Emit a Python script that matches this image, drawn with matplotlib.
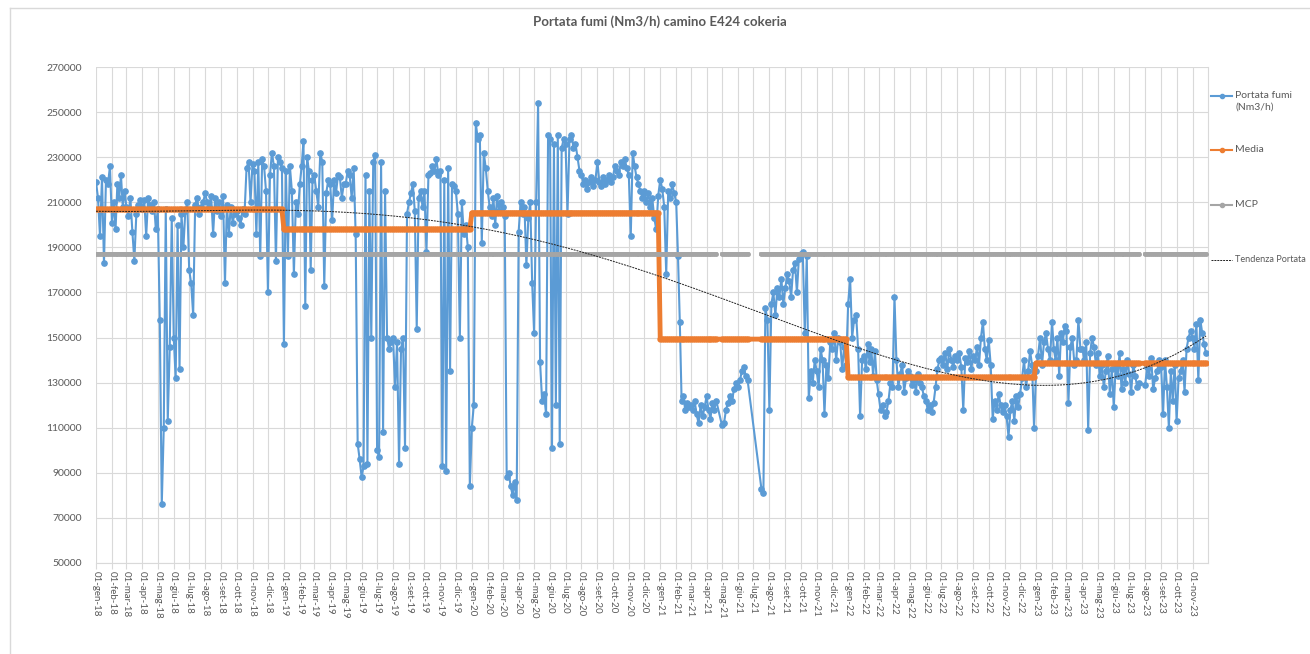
import numpy as np
import pandas as pd
import matplotlib
matplotlib.use('Agg')
import matplotlib.pyplot as plt
import matplotlib.dates as mdates
from matplotlib.lines import Line2D

plt.rcParams['font.family'] = ['Lato', 'DejaVu Sans']

# portata fumi, migliaia di Nm3/h, 8 letture per mese (None = dato mancante)
portata_2018 = [
    [219, 212, 195, 221, 183, 220, 218, 226],
    [201, 210, 198, 218, 212, 222, 208, 215],
    [208, 204, 212, 197, 184, 205, 209, 211],
    [207, 211, 195, 212, 209, 206, 210, 198],
    [207, 158, 76, 110, 207, 113, 146, 203],
    [150, 132, 200, 136, 205, 190, 206, 210],
    [180, 174, 160, 209, 212, 205, 208, 210],
    [214, 210, 208, 213, 196, 212, 206, 210],
    [204, 213, 174, 209, 196, 208, 201, 205],
    [206, 203, 200, 207, 205, 225, 228, 210],
    [227, 224, 196, 228, 186, 229, 226, 215],
    [170, 222, 232, 226, 184, 230, 228, 225],
]
portata_2019 = [
    [147, 224, 186, 226, 215, 178, 210, 205],
    [218, 226, 237, 164, 230, 224, 180, 220],
    [222, 215, 208, 232, 228, 173, 214, 220],
    [218, 202, 220, 214, 222, 221, 212, 218],
    [218, 224, 222, 212, 225, 196, 103, 96],
    [88, 93, 222, 94, 215, 150, 228, 231],
    [100, 97, 228, 108, 215, 150, 145, 148],
    [150, 128, 148, 94, 145, 150, 101, 205],
    [210, 214, 218, 206, 154, 212, 215, 208],
    [215, 188, 222, 223, 226, 224, 229, 222],
    [224, 93, 220, 91, 225, 135, 218, 217],
    [215, 205, 150, 210, 196, 200, 190, 84],
]
portata_2020 = [
    [110, 120, 245, 238, 240, 192, 232, 225],
    [215, 208, 204, 212, 200, 213, 206, 210],
    [208, 204, 88, 90, 84, 80, 86, 78],
    [197, 210, 205, 208, 182, 203, 210, 174],
    [152, 210, 254, 139, 122, 125, 116, 240],
    [238, 101, 236, 120, 240, 103, 234, 238],
    [236, 205, 238, 240, 234, 236, 230, 224],
    [222, 218, 220, 216, 219, 221, 217, 220],
    [228, 219, 217, 221, 218, 220, 222, 219],
    [221, 226, 224, 222, 228, 226, 229, 225],
    [222, 195, 232, 226, 221, 218, 215, 212],
    [215, 210, 214, 208, 212, 203, 198, 213],
]
portata_2021 = [
    [220, 216, 208, 178, 215, 212, 218, 214],
    [210, 186, 157, 122, 124, 118, 121, 119],
    [120, 118, 122, 116, 112, 120, 115, 119],
    [124, 118, 114, 121, 118, 122, None, None],
    [111, 112, 118, 121, 124, 122, 127, 130],
    [128, 131, 135, 137, 133, 131, None, None],
    [None, None, None, None, 83, 81, 163, 158],
    [118, 165, 170, 160, 172, 168, 176, 165],
    [172, 178, 175, 168, 180, 183, 170, 185],
    [187, 188, 152, 186, 123, 135, 130, 140],
    [135, 128, 145, 140, 116, 138, 132, 148],
    [145, 152, 140, 150, 148, 136, 146, 138],
]
portata_2022 = [
    [165, 176, 150, 158, 160, 145, 115, 140],
    [142, 136, 147, 139, 145, 133, 144, 131],
    [125, 118, 120, 115, 117, 122, 130, 128],
    [168, 140, 128, 134, 138, 126, 132, 135],
    [133, 129, 131, 126, 134, 130, 128, 124],
    [122, 118, 120, 117, 121, 128, 136, 140],
    [141, 138, 143, 136, 145, 140, 137, 142],
    [140, 143, 137, 118, 141, 139, 144, 136],
    [142, 140, 146, 138, 150, 157, 145, 140],
    [149, 138, 114, 122, 118, 125, 120, 117],
    [120, 115, 106, 118, 122, 113, 124, 119],
    [125, 132, 140, 128, 135, 144, 138, 110],
]
portata_2023 = [
    [135, 142, 150, 138, 148, 152, 145, 140],
    [157, 145, 140, 150, 133, 152, 148, 155],
    [153, 121, 146, 150, 138, 140, 158, 145],
    [145, 140, 148, 109, 143, 150, 146, 138],
    [143, 133, 138, 128, 135, 142, 125, 136],
    [119, 138, 133, 143, 127, 136, 130, 140],
    [134, 126, 138, 133, 128, 130, None, None],
    [129, 137, 133, 141, 127, 132, 135, 140],
    [137, 116, 140, 128, 110, 135, 122, 138],
    [113, 132, 135, 140, 126, 145, 150, 153],
    [150, 145, 156, 131, 158, 152, 147, 143],
]

anni = [2018, 2019, 2020, 2021, 2022, 2023]
portata_anni = [portata_2018, portata_2019, portata_2020,
                portata_2021, portata_2022, portata_2023]
media_annua = [206800, 198000, 205300, 149300, 132300, 138600]
mcp = 187000

tendenza_date = ['2018-01-01', '2018-07-01', '2019-01-01', '2019-07-01', '2020-01-01',
                 '2020-07-01', '2020-10-01', '2021-01-01', '2021-07-01', '2022-01-01',
                 '2022-05-01', '2022-07-01', '2022-09-01', '2023-01-01', '2023-06-15',
                 '2023-09-15', '2023-11-28']
tendenza_valori = [206000, 206300, 206500, 204300, 199100, 190300, 185000, 176500,
                   160000, 148300, 139400, 134300, 131300, 128600, 133000, 141000, 151000]

mesi_it = ['gen', 'feb', 'mar', 'apr', 'mag', 'giu',
           'lug', 'ago', 'set', 'ott', 'nov', 'dic']

BLU = '#5B9BD5'
ARANCIO = '#ED7D31'
GRIGIO = '#A5A5A5'
TESTO = '#595959'
GRIGLIA = '#D9D9D9'

date, valori, media = [], [], []
for anno, mesi, med in zip(anni, portata_anni, media_annua):
    for m, letture in enumerate(mesi):
        inizio = pd.Timestamp(anno, m + 1, 1)
        giorni = inizio.days_in_month
        for i, v in enumerate(letture):
            date.append(inizio + pd.Timedelta(days=giorni * i / len(letture)))
            valori.append(np.nan if v is None else v * 1000)
            media.append(med)

date = np.array(date, dtype='datetime64[ns]')
valori = np.array(valori, dtype=float)
media = np.array(media, dtype=float)
ok = ~np.isnan(valori)
mcp_serie = np.where(ok, mcp, np.nan)

# tendenza polinomiale ricostruita dai punti letti
xt = mdates.date2num(pd.to_datetime(tendenza_date))
xn = mdates.date2num(date[ok])
coef = np.polyfit(xt - xt[0], tendenza_valori, 4)
tendenza = np.polyval(coef, xn - xt[0])

fig = plt.figure(figsize=(13.1, 6.54), dpi=100)
ax = fig.add_axes([96 / 1310, 1 - 563 / 654, (1208 - 96) / 1310, (563 - 67) / 654])

ax.plot(date[ok], valori[ok], color=BLU, lw=1.5, marker='o', ms=3.8, zorder=3)
ax.plot(date[ok], media[ok], color=ARANCIO, lw=3.5, marker='o', ms=3.5, zorder=4)
ax.plot(date, mcp_serie, color=GRIGIO, lw=2.6, marker='o', ms=2.5, zorder=4)
ax.plot(date[ok], tendenza, color='#222222', lw=0.7, ls=(0, (2, 1)), zorder=5)

ax.set_ylim(50000, 270000)
ax.set_yticks(range(50000, 270001, 20000))
ax.set_xlim(pd.Timestamp('2018-01-01'), pd.Timestamp('2023-12-01'))
mesi = pd.date_range('2018-01-01', '2023-11-01', freq='MS')
ax.set_xticks(mesi)
ax.set_xticklabels([f'01-{mesi_it[d.month - 1]}-{d.year % 100:02d}' for d in mesi],
                   rotation=270, fontsize=7, color=TESTO)
for lab in ax.get_yticklabels():
    lab.set_fontsize(7.5)
    lab.set_color(TESTO)
ax.tick_params(axis='x', length=4, color=GRIGLIA, pad=2)
ax.tick_params(axis='y', length=0, pad=10)
ax.grid(True, color=GRIGLIA, lw=0.8)
ax.set_axisbelow(True)
for s in ['top', 'left']:
    ax.spines[s].set_visible(False)
for s in ['bottom', 'right']:
    ax.spines[s].set_color(GRIGLIA)

fig.text(0.504, 1 - 22 / 654, 'Portata fumi (Nm3/h) camino E424 cokeria',
         ha='center', va='center', fontsize=9.5, fontweight='bold', color=TESTO)

# legenda a destra, voci distanziate come in Excel
voci = [
    (BLU, '-', 'o', 'Portata fumi\n(Nm3/h)', 96, 7.5),
    (ARANCIO, '-', 'o', 'Media', 150, 7.5),
    (GRIGIO, '-', 'o', 'MCP', 205, 7.5),
    ('#222222', (0, (2, 1)), None, 'Tendenza Portata', 260, 6.6),
]
W, H = 1310, 654
for colore, stile, marker, testo, y, fs in voci:
    fig.add_artist(Line2D([1211 / W, 1232 / W], [1 - y / H, 1 - y / H],
                          color=colore, ls=stile, lw=1.5 if marker else 0.7))
    if marker:
        fig.add_artist(Line2D([1221.5 / W], [1 - y / H], color=colore,
                              marker=marker, ms=3))
    fig.text(1235 / W, 1 - (y - 5) / H, testo, ha='left', va='top',
             fontsize=fs, color=TESTO, linespacing=1.35)

# cornice dell'area grafico
fig.add_artist(Line2D([10 / W, 10 / W], [0, 1 - 8 / H], color=GRIGLIA, lw=1))
fig.add_artist(Line2D([10 / W, 1], [1 - 8 / H, 1 - 8 / H], color=GRIGLIA, lw=1))

fig.savefig('out.png', dpi=100)
